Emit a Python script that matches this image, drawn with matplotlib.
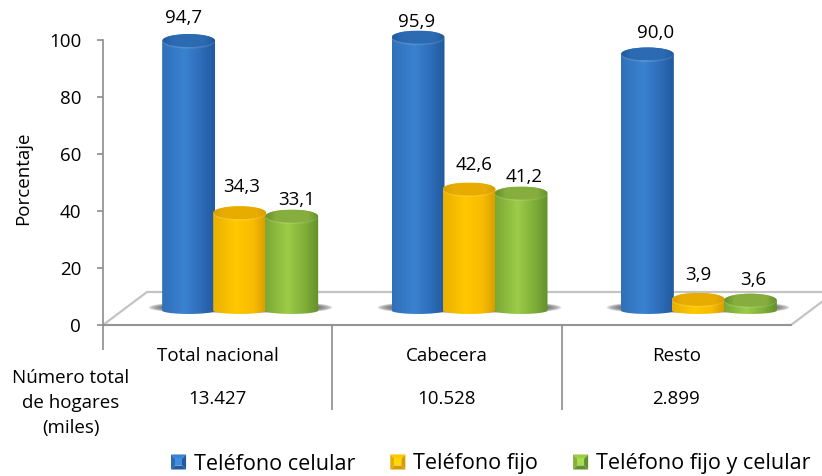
import numpy as np
import matplotlib
matplotlib.use('Agg')
import matplotlib.pyplot as plt
from matplotlib.colors import LinearSegmentedColormap, to_rgb
from matplotlib.legend_handler import HandlerBase
from matplotlib.patches import Ellipse, Patch, Polygon

plt.rcParams['font.family'] = ['Open Sans', 'DejaVu Sans']

categories = ['Total nacional', 'Cabecera', 'Resto']
hogares = ['13.427', '10.528', '2.899']
series = ['Teléfono celular', 'Teléfono fijo', 'Teléfono fijo y celular']
celular = [94.7, 95.9, 90.0]
fijo = [34.3, 42.6, 3.9]
fijo_celular = [33.1, 41.2, 3.6]
values = [celular, fijo, fijo_celular]

# colores: borde, centro, medio, borde oscuro, tapa
colors = [('#3070b8', '#3a82d0', '#2d6cb8', '#205a9f', '#2c6ab2'),
          ('#eab000', '#ffc800', '#f8bc00', '#d89c00', '#e8ac00'),
          ('#7aa835', '#9ccc48', '#7fae38', '#62902c', '#86ae3e')]
label_dx = [[-5, -1, 8], [2, 5, 0], [5, 3, 3]]
label_dy = [[23, 15, 21], [26, 24, 24], [16, 16, 20]]

W, H = 822, 476
X0, X1, Y0, Y100 = 103, 791, 325, 40
px_x = (X1 - X0) / 3
px_y = (Y0 - Y100) / 100
FS = 13.5

fig = plt.figure(figsize=(W / 100, H / 100), dpi=100)
ax = fig.add_axes([X0 / W, 1 - Y0 / H, (X1 - X0) / W, (Y0 - Y100) / H])
ax.set_xlim(0, 3)
ax.set_ylim(0, 100)
for s in ['top', 'right']:
    ax.spines[s].set_visible(False)
for s in ['left', 'bottom']:
    ax.spines[s].set_color('#8c8c8c')
    ax.spines[s].set_linewidth(1.2)

# piso 3D
dx = 44 / px_x
dy = 33 / px_y
floor = Polygon([(0, 0), (3, 0), (3 + dx, dy), (dx, dy)], closed=True, fc='white',
                ec='#c4c4c4', lw=1.6, clip_on=False, zorder=1)
ax.add_patch(floor)
ax.spines['bottom'].set_zorder(2)

base = 5.1
half_w = 26.5 / px_x
cap = 6.5 / px_y
foot = 3.5 / px_y
offsets = [-51, 0, 52]
shift = 22
t = np.linspace(0, np.pi, 60)

# sombra de cada grupo
yy, xx = np.mgrid[-1:1:40j, -1:1:300j]
alpha = np.clip(1 - xx ** 4 - yy ** 2, 0, 1) ** 0.6 * 0.8
shadow = np.zeros(xx.shape + (4,))
shadow[..., 3] = alpha
for i in range(3):
    cx = i + 0.5 + shift / px_x
    ax.imshow(shadow, extent=[cx - 92 / px_x, cx + 92 / px_x, base - 3 / px_y, base + 8 / px_y],
              aspect='auto', zorder=3, clip_on=False)

z = 4
for k, vals in enumerate(values):
    edge, mid, mid2, dark, top = colors[k]
    cmap = LinearSegmentedColormap.from_list('c', [(0, edge), (0.42, mid), (0.75, mid2), (1, dark)])
    cap_cmap = LinearSegmentedColormap.from_list('t', [(0, dark), (0.2, top), (0.8, top), (1, dark)])
    grad = np.linspace(0, 1, 128).reshape(1, -1)
    for i, v in enumerate(vals):
        cx = i + 0.5 + (shift + offsets[k]) / px_x
        ytop = base + v
        l, r = cx - half_w, cx + half_w
        # cuerpo del cilindro
        xs = np.r_[cx - half_w * np.cos(t), cx + half_w * np.cos(t)]
        ys = np.r_[ytop + cap * np.sin(t), base - foot * np.sin(t)]
        outline = Polygon(np.c_[xs, ys], closed=True, transform=ax.transData)
        im = ax.imshow(grad, cmap=cmap, extent=[l, r, base - foot, ytop + cap], aspect='auto', zorder=z)
        im.set_clip_path(outline)
        im.set_clip_box(fig.bbox)
        # borde claro bajo la tapa
        ax.add_patch(Ellipse((cx, ytop - 1.6 / px_y), 2 * half_w * 0.97, 2 * cap, fc='white', ec='none',
                             alpha=0.12, zorder=z + 0.1, clip_on=False))
        # tapa
        lid = Ellipse((cx, ytop), 2 * half_w * 0.97, 2 * cap, transform=ax.transData)
        im2 = ax.imshow(grad, cmap=cap_cmap, extent=[l, r, ytop - cap, ytop + cap], aspect='auto', zorder=z + 0.2)
        im2.set_clip_path(lid)
        im2.set_clip_box(fig.bbox)
        ax.annotate(f'{v:.1f}'.replace('.', ','), (cx, ytop),
                    xytext=(label_dx[k][i] * 0.72, label_dy[k][i] * 0.72),
                    textcoords='offset points', ha='center', va='center', fontsize=FS,
                    color='black', zorder=20, annotation_clip=False)
    z += 1

ax.set_xlim(0, 3)
ax.set_ylim(0, 100)

# ejes
ax.set_yticks(range(0, 101, 20))
ax.tick_params(axis='y', length=4.3, width=1.2, color='#8c8c8c', labelsize=FS, pad=11.5)
ax.set_xticks([0, 1, 2])
ax.set_xticklabels([])
ax.tick_params(axis='x', which='major', length=61, width=1.2, color='#8c8c8c')
ax.xaxis.get_major_ticks()[0].tick1line.set_markersize(18)
ax.set_xticks([0.5, 1.5, 2.5], minor=True)
ax.set_xticklabels(categories, minor=True, fontsize=FS)
ax.tick_params(axis='x', which='minor', length=0, pad=15.5)
ax.set_ylabel('Porcentaje', fontsize=FS)
ax.yaxis.set_label_coords((32 - X0) / (X1 - X0), 0.5 + (Y0 - 178 - (Y0 - Y100) / 2) / (Y0 - Y100))

trans = ax.get_xaxis_transform()
for i, h in enumerate(hogares):
    ax.annotate(h, (i + 0.5, 0), xytext=(0, -53), textcoords='offset points', xycoords=trans,
                ha='center', va='center', fontsize=FS, annotation_clip=False)
fig.text(71 / W, 1 - 403 / H, 'Número total\nde hogares\n(miles)', ha='center', va='center',
         fontsize=FS, linespacing=1.52)


class Bevel(HandlerBase):
    def create_artists(self, legend, orig, xd, yd, width, height, fontsize, trans):
        k = series.index(orig.get_label())
        edge, mid, mid2, dark, top = colors[k]
        x, y = -xd, -yd
        w = h = height
        b = 0.27 * w
        pts = [(x, y), (x + w, y), (x + w, y + h), (x, y + h)]
        inner = [(x + b, y + b), (x + w - b, y + b), (x + w - b, y + h - b), (x + b, y + h - b)]
        fills = [dark, dark, mid, top]
        out = []
        for j in range(4):
            j2 = (j + 1) % 4
            out.append(Polygon([pts[j], pts[j2], inner[j2], inner[j]], closed=True, fc=fills[j], ec='none', transform=trans))
        face = tuple(min(1, c * 1.08) for c in to_rgb(mid))
        out.append(Polygon(inner, closed=True, fc=face, ec='none', transform=trans))
        return out


handles = [Patch(label=s) for s in series]
ax.legend(handles=handles, handler_map={Patch: Bevel()}, ncol=3, frameon=False,
          loc='center left', bbox_to_anchor=(171 / W, 1 - 464 / H), bbox_transform=fig.transFigure,
          fontsize=15.5, handlelength=0.67, handletextpad=0.4, columnspacing=1.62, borderaxespad=0, borderpad=0)

plt.savefig('out.png', dpi=100)
